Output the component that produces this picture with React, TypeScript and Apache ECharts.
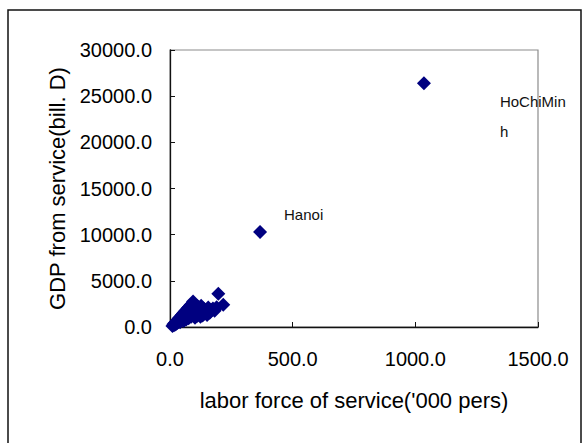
import React, { useEffect, useRef } from "react";
import * as echarts from "echarts";

// labor force of service ('000 persons) and GDP from service (bill. D)
const laborForce = [
  10, 14, 16, 19, 21, 24, 26, 29, 31, 33, 36, 38, 41, 43, 46, 48, 51, 53, 56, 58,
  61, 63, 66, 68, 71, 73, 76, 78, 81, 84, 86, 89, 91, 94, 97, 99, 102, 104, 107, 110,
  112, 115, 118, 121, 124, 127, 130, 133, 137, 141, 146, 151, 156, 162, 168, 175, 182, 190, 197, 217,
];
const gdpService = [
  120, 300, 180, 420, 260, 550, 350, 700, 450, 850, 600, 1000, 520, 1150, 750, 1300, 900, 1450, 650, 1600,
  1050, 1750, 800, 1900, 1200, 2050, 950, 2200, 1350, 2400, 1100, 1600, 2500, 2750, 1300, 1850, 1000, 2100, 1500, 1200,
  2250, 1700, 1350, 1950, 1100, 2300, 1600, 1250, 2000, 1450, 1750, 1300, 2100, 1550, 1850, 2000, 1750, 2150, 3600, 2400,
];
const labelledNames = ["Hanoi", "HoChiMinh"];
const labelledLabor = [367, 1035];
const labelledGdp = [10300, 26400];
const labelTexts = ["Hanoi", "HoChiMin\nh"];

const xTicks = { min: 0, max: 1500, interval: 500 };
const yTicks = { min: 0, max: 30000, interval: 5000 };

const FONT = "'Liberation Sans', Arial, sans-serif";

export default function App() {
  const ref = useRef<HTMLDivElement>(null);

  useEffect(() => {
    document.body.style.margin = "0";
    if (!ref.current) return;
    const chart = echarts.init(ref.current, undefined, { renderer: "svg" });

    const data: any[] = laborForce.map((x, i) => [x, gdpService[i]]);
    const labelOffsets = [
      [12, -17],
      [64, 33],
    ];
    labelledNames.forEach((name, i) => {
      data.push({
        name,
        value: [labelledLabor[i], labelledGdp[i]],
        label: {
          show: true,
          position: "right",
          formatter: labelTexts[i],
          offset: labelOffsets[i],
          fontSize: 15,
          lineHeight: 30,
          color: "#111",
          fontFamily: FONT,
        },
      });
    });

    chart.setOption({
      animation: false,
      backgroundColor: "#fff",
      textStyle: { fontFamily: FONT },
      graphic: [
        {
          type: "rect",
          shape: { x: 8, y: 10, width: 573, height: 460 },
          style: { fill: "none", stroke: "#111", lineWidth: 1.5 },
          z: 100,
        },
      ],
      grid: {
        left: 170,
        top: 50,
        right: 50,
        bottom: 116,
        show: true,
        borderColor: "#8c8c8c",
        borderWidth: 1.2,
        containLabel: false,
      },
      xAxis: {
        type: "value",
        ...xTicks,
        name: "labor force of service('000 pers)",
        nameLocation: "middle",
        nameGap: 62,
        nameTextStyle: { fontSize: 22, color: "#000", fontFamily: FONT },
        axisLine: { show: true, lineStyle: { color: "#111", width: 1.3 } },
        axisTick: { show: true, inside: true, length: 5, lineStyle: { color: "#111" } },
        axisLabel: {
          formatter: (v: number) => v.toFixed(1),
          fontSize: 20,
          color: "#000",
          margin: 22,
          fontFamily: FONT,
        },
        splitLine: { show: false },
      },
      yAxis: {
        type: "value",
        ...yTicks,
        name: "GDP from service(bill. D)",
        nameLocation: "middle",
        nameGap: 99,
        nameTextStyle: { fontSize: 22, color: "#000", fontFamily: FONT },
        axisLine: { show: true, lineStyle: { color: "#111", width: 1.3 } },
        axisTick: { show: true, inside: true, length: 5, lineStyle: { color: "#111" } },
        axisLabel: {
          formatter: (v: number) => v.toFixed(1),
          fontSize: 20,
          color: "#000",
          margin: 18,
          fontFamily: FONT,
        },
        splitLine: { show: false },
      },
      series: [
        {
          type: "scatter",
          symbol: "diamond",
          symbolSize: 14,
          itemStyle: { color: "#000080", opacity: 1 },
          data,
          z: 3,
        },
      ],
    });

    return () => chart.dispose();
  }, []);

  return <div ref={ref} style={{ width: 588, height: 443 }} />;
}
